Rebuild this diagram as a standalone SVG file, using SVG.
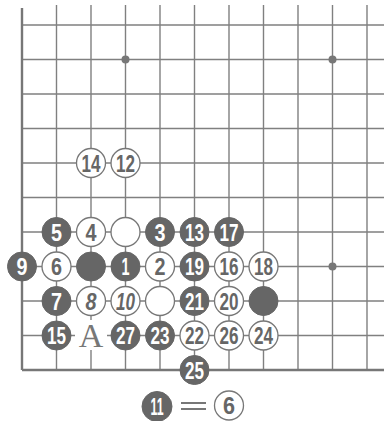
<svg xmlns="http://www.w3.org/2000/svg" width="385" height="421" viewBox="0 0 385 421">
<style>
.g{stroke:#808080;stroke-width:1.4;fill:none}
.e{stroke:#777;stroke-width:2.4;fill:none}
.b{fill:#666;stroke:#666;stroke-width:1}
.w{fill:#fff;stroke:#777;stroke-width:1.3}
.tb,.tw{font-family:"Liberation Sans",sans-serif;font-size:24px;font-weight:bold;text-anchor:middle}
.tb{fill:#fff}
.tw{fill:#666}
.ta{fill:#777;font-family:"Liberation Serif",serif;font-size:34px;text-anchor:middle}
</style>
<rect width="385" height="421" fill="#fff"/>
<g id="grid">
<path class="g" d="M22 25H384M22 59.5H384M22 94H384M22 128.5H384M22 163H384M22 197.5H384M22 232H384M22 266.5H384M22 301H384M22 335.5H384"/>
<path class="g" d="M56.5 5V370M91 5V370M125.5 5V370M160 5V370M194.5 5V370M229 5V370M263.5 5V370M298 5V370M332.5 5V370M367 5V370"/>
<path class="e" d="M22 8V370M22 370H384"/>
<circle cx="125.5" cy="59.5" r="4" fill="#777"/>
<circle cx="332.5" cy="59.5" r="4" fill="#777"/>
<circle cx="332.5" cy="266.5" r="4" fill="#777"/>
</g>
<g id="s14"><circle class="w" cx="91" cy="163" r="14.5"/><text class="tw" x="91" y="171.5" textLength="19" lengthAdjust="spacingAndGlyphs">14</text></g>
<g id="s12"><circle class="w" cx="125.5" cy="163" r="14.5"/><text class="tw" x="125.5" y="171.5" textLength="19" lengthAdjust="spacingAndGlyphs">12</text></g>
<g id="s5"><circle class="b" cx="56.5" cy="232" r="14.5"/><text class="tb" x="56.5" y="240.5" textLength="11" lengthAdjust="spacingAndGlyphs">5</text></g>
<g id="s4"><circle class="w" cx="91" cy="232" r="14.5"/><text class="tw" x="91" y="240.5" textLength="11" lengthAdjust="spacingAndGlyphs">4</text></g>
<g id="w1"><circle class="w" cx="125.5" cy="232" r="14.5"/></g>
<g id="s3"><circle class="b" cx="160" cy="232" r="14.5"/><text class="tb" x="160" y="240.5" textLength="11" lengthAdjust="spacingAndGlyphs">3</text></g>
<g id="s13"><circle class="b" cx="194.5" cy="232" r="14.5"/><text class="tb" x="194.5" y="240.5" textLength="19" lengthAdjust="spacingAndGlyphs">13</text></g>
<g id="s17"><circle class="b" cx="229" cy="232" r="14.5"/><text class="tb" x="229" y="240.5" textLength="19" lengthAdjust="spacingAndGlyphs">17</text></g>
<g id="s9"><circle class="b" cx="22" cy="266.5" r="14.5"/><text class="tb" x="22" y="275" textLength="11" lengthAdjust="spacingAndGlyphs">9</text></g>
<g id="s6"><circle class="w" cx="56.5" cy="266.5" r="14.5"/><text class="tw" x="56.5" y="275" textLength="11" lengthAdjust="spacingAndGlyphs">6</text></g>
<g id="b1"><circle class="b" cx="91" cy="266.5" r="14.5"/></g>
<g id="s1"><circle class="b" cx="125.5" cy="266.5" r="14.5"/><text class="tb" x="125.5" y="275" textLength="8" lengthAdjust="spacingAndGlyphs">1</text></g>
<g id="s2"><circle class="w" cx="160" cy="266.5" r="14.5"/><text class="tw" x="160" y="275" textLength="11" lengthAdjust="spacingAndGlyphs">2</text></g>
<g id="s19"><circle class="b" cx="194.5" cy="266.5" r="14.5"/><text class="tb" x="194.5" y="275" textLength="19" lengthAdjust="spacingAndGlyphs">19</text></g>
<g id="s16"><circle class="w" cx="229" cy="266.5" r="14.5"/><text class="tw" x="229" y="275" textLength="19" lengthAdjust="spacingAndGlyphs">16</text></g>
<g id="s18"><circle class="w" cx="263.5" cy="266.5" r="14.5"/><text class="tw" x="263.5" y="275" textLength="19" lengthAdjust="spacingAndGlyphs">18</text></g>
<g id="s7"><circle class="b" cx="56.5" cy="301" r="14.5"/><text class="tb" x="56.5" y="309.5" textLength="11" lengthAdjust="spacingAndGlyphs">7</text></g>
<g id="s8"><circle class="w" cx="91" cy="301" r="14.5"/><text class="tw" x="91" y="309.5" font-style="italic" textLength="11" lengthAdjust="spacingAndGlyphs">8</text></g>
<g id="s10"><circle class="w" cx="125.5" cy="301" r="14.5"/><text class="tw" x="125.5" y="309.5" font-style="italic" textLength="19" lengthAdjust="spacingAndGlyphs">10</text></g>
<g id="w2"><circle class="w" cx="160" cy="301" r="14.5"/></g>
<g id="s21"><circle class="b" cx="194.5" cy="301" r="14.5"/><text class="tb" x="194.5" y="309.5" textLength="19" lengthAdjust="spacingAndGlyphs">21</text></g>
<g id="s20"><circle class="w" cx="229" cy="301" r="14.5"/><text class="tw" x="229" y="309.5" textLength="19" lengthAdjust="spacingAndGlyphs">20</text></g>
<g id="b2"><circle class="b" cx="263.5" cy="301" r="14.5"/></g>
<g id="s15"><circle class="b" cx="56.5" cy="335.5" r="14.5"/><text class="tb" x="56.5" y="344" textLength="19" lengthAdjust="spacingAndGlyphs">15</text></g>
<g id="A"><rect x="75" y="320" width="32" height="30" fill="#fff"/><text class="ta" x="91" y="347">A</text></g>
<g id="s27"><circle class="b" cx="125.5" cy="335.5" r="14.5"/><text class="tb" x="125.5" y="344" textLength="19" lengthAdjust="spacingAndGlyphs">27</text></g>
<g id="s23"><circle class="b" cx="160" cy="335.5" r="14.5"/><text class="tb" x="160" y="344" textLength="19" lengthAdjust="spacingAndGlyphs">23</text></g>
<g id="s22"><circle class="w" cx="194.5" cy="335.5" r="14.5"/><text class="tw" x="194.5" y="344" textLength="19" lengthAdjust="spacingAndGlyphs">22</text></g>
<g id="s26"><circle class="w" cx="229" cy="335.5" r="14.5"/><text class="tw" x="229" y="344" textLength="19" lengthAdjust="spacingAndGlyphs">26</text></g>
<g id="s24"><circle class="w" cx="263.5" cy="335.5" r="14.5"/><text class="tw" x="263.5" y="344" textLength="19" lengthAdjust="spacingAndGlyphs">24</text></g>
<g id="s25"><circle class="b" cx="194.5" cy="370" r="14.5"/><text class="tb" x="194.5" y="378.5" textLength="19" lengthAdjust="spacingAndGlyphs">25</text></g>
<g id="note">
<circle class="b" cx="157" cy="406.5" r="15"/><text class="tb" x="157" y="415" textLength="13" lengthAdjust="spacingAndGlyphs">11</text>
<path d="M181 403H206M181 409H206" stroke="#777" stroke-width="2"/>
<circle class="w" cx="229" cy="405.5" r="14.5"/><text class="tw" x="229" y="414" textLength="12" lengthAdjust="spacingAndGlyphs">6</text>
</g>
</svg>
